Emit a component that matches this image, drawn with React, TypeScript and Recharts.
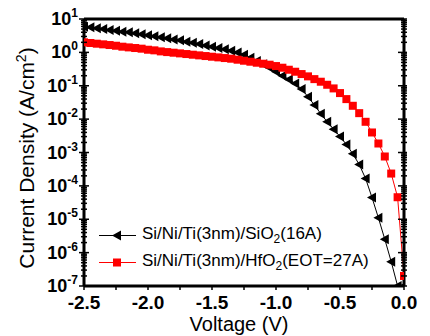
import { LineChart, Line, XAxis, YAxis, Legend } from "recharts";

// bias voltage (V), 50 mV steps
const voltage = [
  -2.5, -2.45, -2.4, -2.35, -2.3, -2.25, -2.2, -2.15, -2.1, -2.05,
  -2.0, -1.95, -1.9, -1.85, -1.8, -1.75, -1.7, -1.65, -1.6, -1.55,
  -1.5, -1.45, -1.4, -1.35, -1.3, -1.25, -1.2, -1.15, -1.1, -1.05,
  -1.0, -0.95, -0.9, -0.85, -0.8, -0.75, -0.7, -0.65, -0.6, -0.55,
  -0.5, -0.45, -0.4, -0.35, -0.3, -0.25, -0.2, -0.15, -0.1, -0.05, 0,
];

// current density (A/cm^2), Si/Ni/Ti(3nm)/SiO2(16A)
const jSiO2 = [
  5.89, 5.62, 5.25, 5.01, 4.68, 4.47, 4.17, 3.98, 3.72, 3.47,
  3.24, 3.02, 2.82, 2.63, 2.45, 2.29, 2.09, 1.95, 1.78, 1.62,
  1.48, 1.35, 1.23, 1.12, 1.0, 0.851, 0.692, 0.55, 0.44, 0.345,
  0.263, 0.2, 0.155, 0.117, 0.0794, 0.0468, 0.0263, 0.0145, 0.00832, 0.00501,
  0.00302, 0.00174, 9.12e-4, 4.37e-4, 1.66e-4, 4.47e-5, 1.1e-5, 2.51e-6, 5.37e-7, 1.0e-7, 1.0e-7,
];

// current density (A/cm^2), Si/Ni/Ti(3nm)/HfO2(EOT=27A)
const jHfO2 = [
  2.0, 1.91, 1.82, 1.74, 1.66, 1.58, 1.48, 1.41, 1.35, 1.29,
  1.2, 1.15, 1.07, 1.02, 0.977, 0.933, 0.891, 0.851, 0.813, 0.776,
  0.741, 0.708, 0.676, 0.646, 0.603, 0.562, 0.525, 0.49, 0.457, 0.427,
  0.389, 0.347, 0.302, 0.263, 0.224, 0.191, 0.158, 0.132, 0.107, 0.0832,
  0.0603, 0.0398, 0.0251, 0.0151, 0.00832, 0.00398, 0.00186, 7.59e-4, 2.34e-4, 4.57e-5, 2.0e-7,
];

const xTicks = [-2.5, -2.25, -2.0, -1.75, -1.5, -1.25, -1.0, -0.75, -0.5, -0.25, 0];
const decades = [1e-7, 1e-6, 1e-5, 1e-4, 1e-3, 1e-2, 1e-1, 1, 10];
const minorSteps = [2, 3, 4, 5, 6, 7, 8, 9];
const yTicks = [
  ...decades,
  ...decades.slice(0, -1).flatMap((d) => minorSteps.map((m) => m * d)),
];

const legendItems = [
  { color: "#000000", shape: "tri", text: ["Si/Ni/Ti(3nm)/SiO", "2", "(16A)"] },
  { color: "#ff0000", shape: "sq", text: ["Si/Ni/Ti(3nm)/HfO", "2", "(EOT=27A)"] },
];

const sio2Data = voltage.map((v, i) => ({ v, j: jSiO2[i] }));
const hfo2Data = voltage.map((v, i) => ({ v, j: jHfO2[i] }));

const FONT = "'Liberation Sans', Arial, sans-serif";

const isDecade = (v: number) => {
  const l = Math.log10(v);
  return Math.abs(l - Math.round(l)) < 1e-6;
};
const isHalf = (v: number) => Math.abs(v * 2 - Math.round(v * 2)) < 1e-9;

function Tri({ cx, cy, color }: any) {
  if (cx == null || cy == null) return null;
  return (
    <polygon
      points={`${cx - 5},${cy} ${cx + 4},${cy - 5} ${cx + 4},${cy + 5}`}
      fill={color}
    />
  );
}

function Sq({ cx, cy, color }: any) {
  if (cx == null || cy == null) return null;
  return <rect x={cx - 4} y={cy - 4} width={8} height={8} fill={color} />;
}

function LeftTick({ x, y, payload }: any) {
  const v = payload.value;
  const major = isDecade(v);
  const e = Math.round(Math.log10(v));
  const len = major ? 5 : 3;
  return (
    <g>
      <line x1={x - len} x2={x + len} y1={y} y2={y} stroke="#000" strokeWidth={1.5} />
      {major && (
        <text x={x - 6} y={y + 6} textAnchor="end" fontFamily={FONT} fontWeight="bold" fontSize={18} fill="#000">
          10
          <tspan dy={-8} fontSize={12}>{e}</tspan>
        </text>
      )}
    </g>
  );
}

function RightTick({ x, y, payload }: any) {
  const major = isDecade(payload.value);
  return (
    <line x1={x - (major ? 6 : 3)} x2={x + 3} y1={y} y2={y} stroke="#000" strokeWidth={1.5} />
  );
}

function BottomTick({ x, y, payload }: any) {
  const v = payload.value;
  return (
    <g>
      <line x1={x} x2={x} y1={y} y2={y + 4} stroke="#000" strokeWidth={1.5} />
      {isHalf(v) && (
        <text x={x} y={y + 23} textAnchor="middle" fontFamily={FONT} fontWeight="bold" fontSize={19} fill="#000">
          {v.toFixed(1)}
        </text>
      )}
    </g>
  );
}

function TopTick({ x, y }: any) {
  return <line x1={x} x2={x} y1={y} y2={y + 5} stroke="#000" strokeWidth={1.5} />;
}

function XTitle({ viewBox }: any) {
  return (
    <text x={viewBox.x + viewBox.width / 2 - 5} y={viewBox.y + 45} textAnchor="middle" fontFamily={FONT} fontSize={20} fill="#000">
      Voltage (V)
    </text>
  );
}

function YTitle() {
  const cx = 34;
  const cy = 158;
  return (
    <text x={cx} y={cy} textAnchor="middle" transform={`rotate(-90, ${cx}, ${cy})`} fontFamily={FONT} fontSize={21} fill="#000">
      Current Density (A/cm
      <tspan dy={-8} fontSize={14}>2</tspan>
      <tspan dy={8}>)</tspan>
    </text>
  );
}

function LegendBox() {
  return (
    <div style={{ fontFamily: FONT, fontSize: 17, color: "#000" }}>
      {legendItems.map((it) => (
        <div key={it.text[0]} style={{ display: "flex", alignItems: "center", height: 27, whiteSpace: "nowrap" }}>
          <svg width={46} height={27}>
            <line x1={3} x2={40} y1={13.5} y2={13.5} stroke={it.color} strokeWidth={1} />
            {it.shape === "tri" ? <Tri cx={21} cy={13.5} color={it.color} /> : <Sq cx={21} cy={13.5} color={it.color} />}
          </svg>
          <span>
            {it.text[0]}
            <sub style={{ fontSize: 12 }}>{it.text[1]}</sub>
            {it.text[2]}
          </span>
        </div>
      ))}
    </div>
  );
}

export default function App() {
  return (
    <div style={{ position: "absolute", left: 0, top: 0, background: "#fff" }}>
      <LineChart width={430} height={336} margin={{ top: 18, right: 25, bottom: 0, left: 0 }}>
        <XAxis
          dataKey="v"
          type="number"
          domain={[-2.5, 0]}
          ticks={xTicks}
          interval={0}
          height={50}
          tickSize={0}
          tickMargin={0}
          tickLine={false}
          axisLine={{ stroke: "#000", strokeWidth: 3 }}
          tick={<BottomTick />}
          label={<XTitle />}
          allowDataOverflow
        />
        <XAxis
          xAxisId="top"
          orientation="top"
          dataKey="v"
          type="number"
          domain={[-2.5, 0]}
          ticks={xTicks}
          interval={0}
          height={1}
          tickSize={0}
          tickMargin={0}
          tickLine={false}
          axisLine={{ stroke: "#000", strokeWidth: 3 }}
          tick={<TopTick />}
        />
        <YAxis
          type="number"
          scale="log"
          domain={[1e-7, 10]}
          ticks={yTicks}
          interval={0}
          width={84}
          tickSize={0}
          tickMargin={0}
          tickLine={false}
          axisLine={{ stroke: "#000", strokeWidth: 3 }}
          tick={<LeftTick />}
          label={<YTitle />}
          allowDataOverflow
        />
        <YAxis
          yAxisId="right"
          orientation="right"
          type="number"
          scale="log"
          domain={[1e-7, 10]}
          ticks={yTicks}
          interval={0}
          width={1}
          tickSize={0}
          tickMargin={0}
          tickLine={false}
          axisLine={{ stroke: "#000", strokeWidth: 3 }}
          tick={<RightTick />}
          allowDataOverflow
        />
        <Legend
          layout="vertical"
          align="center"
          verticalAlign="middle"
          content={<LegendBox />}
          wrapperStyle={{ left: 96, top: 221.5, width: 300 }}
        />
        <Line
          data={sio2Data}
          dataKey="j"
          stroke="#000000"
          strokeWidth={1}
          isAnimationActive={false}
          dot={(p: any) => <Tri key={`s${p.index}`} cx={p.cx} cy={p.cy} color="#000000" />}
        />
        <Line
          data={hfo2Data}
          dataKey="j"
          stroke="#ff0000"
          strokeWidth={1}
          isAnimationActive={false}
          dot={(p: any) => <Sq key={`h${p.index}`} cx={p.cx} cy={p.cy} color="#ff0000" />}
        />
      </LineChart>
    </div>
  );
}
